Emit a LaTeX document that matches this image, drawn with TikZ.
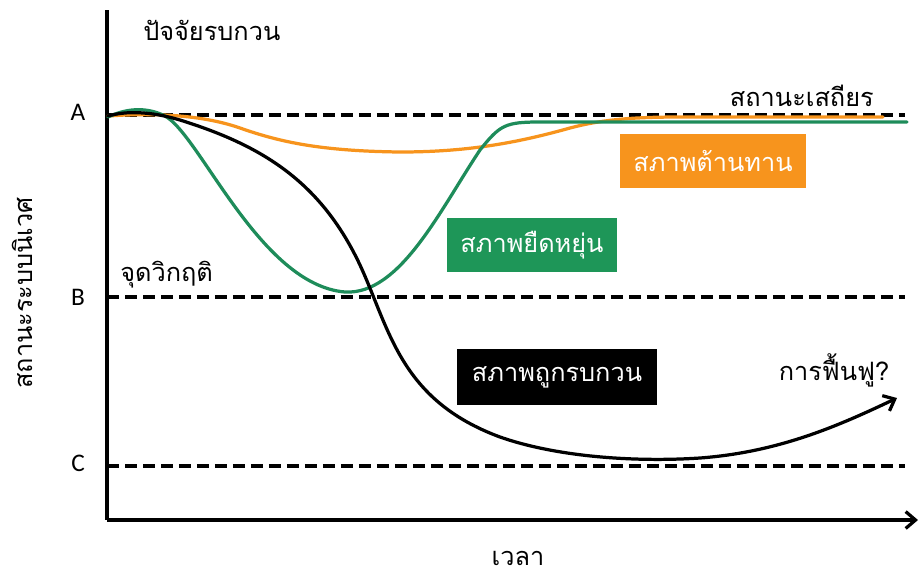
\documentclass[tikz,border=0pt]{standalone}
\usepackage{fontspec}
\setmainfont{Carlito}
\newfontfamily\thaifont[Script=Thai]{Loma}
\usetikzlibrary{arrows.meta}
\definecolor{resorange}{RGB}{247,148,29}
\definecolor{resgreen}{RGB}{30,150,88}
\definecolor{curvegreen}{RGB}{30,140,90}

\begin{document}
\begin{tikzpicture}[x=0.025cm,y=-0.025cm,
  axis/.style={line width=2.6pt,black},
  lvl/.style={line width=2.4pt,dash pattern=on 8.5pt off 4.3pt},
  curve/.style={line width=2.3pt,line cap=round},
  lbl/.style={font=\thaifont\fontsize{18}{21}\selectfont,inner sep=0pt},
  abc/.style={font=\fontsize{18}{21}\selectfont,inner sep=0pt},
  tag/.style={font=\thaifont\fontsize{18}{21}\selectfont,text=white,inner sep=0pt,
              minimum height=1.35cm},
  arr/.style={-{Straight Barb[length=7pt,width=12pt,line width=2.3pt]}}]
  \useasboundingbox (0,0) rectangle (920,575);
  \coordinate (top) at (107,10);
  \coordinate (orig) at (107,520);
  \coordinate (xend) at (918,520);
  \draw[axis] (top) -- (orig);
  \draw[axis,arr] (orig) -- (xend);
  \node[abc] (la) at (78,112) {A};
  \node[abc] (lb) at (78,297) {B};
  \node[abc] (lc) at (78,463) {C};
  \coordinate (a0) at (107,115);  \coordinate (a1) at (905,115);
  \coordinate (b0) at (107,297);  \coordinate (b1) at (905,297);
  \coordinate (c0) at (107,466);  \coordinate (c1) at (905,466);
  \draw[lvl] (a0) -- (a1);
  \draw[lvl] (b0) -- (b1);
  \draw[lvl] (c0) -- (c1);
  \node[lbl,anchor=west] (dist) at (143,30) {ปัจจัยรบกวน};
  \node[lbl,anchor=east] (stable) at (874,96) {สถานะเสถียร};
  \node[lbl,anchor=west] (crit) at (120,275) {จุดวิกฤติ};
  \node[lbl] (recov) at (834,370) {การฟื้นฟู?};
  \node[lbl] (time) at (518,558) {เวลา};
  \node[lbl,rotate=90] (ylab) at (22,293) {สถานะระบบนิเวศ};
  \draw[curve,resorange] (108,116) .. controls (150,113) and (200,114) .. (240,128)
    .. controls (280,142) and (320,151) .. (400,152)
    .. controls (470,152) and (520,142) .. (570,128)
    .. controls (600,120) and (630,117) .. (680,117) -- (883,117);
  \draw[curve,curvegreen] (108,117) .. controls (125,109) and (145,106) .. (165,116)
    .. controls (200,135) and (260,285) .. (345,292)
    .. controls (400,295) and (440,210) .. (480,150)
    .. controls (500,125) and (505,122) .. (540,122) -- (907,122);
  \draw[curve,arr] (108,116) .. controls (125,111) and (150,111) .. (180,120)
    .. controls (260,145) and (320,180) .. (360,265)
    .. controls (390,330) and (400,400) .. (500,437)
    .. controls (560,458) and (640,462) .. (700,458)
    .. controls (780,452) and (840,425) .. (897,398);
  \node[tag,fill=resorange,minimum width=4.65cm] (resist) at (713,161) {สภาพต้านทาน};
  \node[tag,fill=resgreen,minimum width=4.225cm] (resil) at (532,245) {สภาพยืดหยุ่น};
  \node[tag,fill=black,minimum width=4.975cm,minimum height=1.4cm] (dstate) at (557,377) {สภาพถูกรบกวน};
\end{tikzpicture}
\end{document}
